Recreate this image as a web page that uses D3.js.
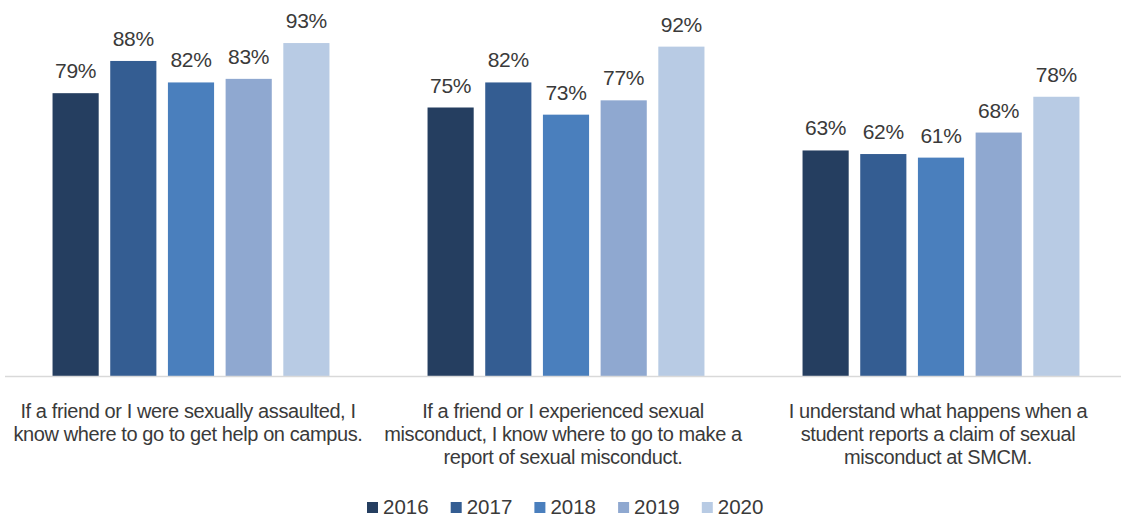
<!DOCTYPE html>
<html>
<head>
<meta charset="utf-8">
<script src="https://cdn.jsdelivr.net/npm/d3@7"></script>
<style>
  html, body { margin: 0; padding: 0; background: #fff; }
  svg text { font-family: "Liberation Sans", Arial, sans-serif; fill: #3a3a3a; }
</style>
</head>
<body>
<svg id="chart" width="1121" height="519"></svg>
<script>
// Survey statements (one group each)
const statements = [
  ["If a friend or I were sexually assaulted, I", "know where to go to get help on campus."],
  ["If a friend or I experienced sexual", "misconduct, I know where to go to make a", "report of sexual misconduct."],
  ["I understand what happens when a", "student reports a claim of sexual", "misconduct at SMCM."]
];
const years = ["2016", "2017", "2018", "2019", "2020"];
// Percent agreeing, per statement, by year
const v2016 = [79, 75, 63];
const v2017 = [88, 82, 62];
const v2018 = [82, 73, 61];
const v2019 = [83, 77, 68];
const v2020 = [93, 92, 78];
const colors = ["#253e60", "#345d92", "#4a7fbd", "#8fa8d0", "#b8cbe4"];

const series = [v2016, v2017, v2018, v2019, v2020];
const groups = statements.map((s, i) => ({
  id: "g" + i,
  lines: s,
  values: years.map((y, j) => ({ year: y, value: series[j][i] }))
}));

const svg = d3.select("#chart");
const baseY = 376;

const x0 = d3.scaleBand().domain(groups.map(g => g.id)).range([3.5, 1128.5]).padding(0);
const x1 = d3.scaleBand().domain(years).range([0, x0.bandwidth()]).paddingInner(0.2).paddingOuter(0.85);
const y = d3.scaleLinear().domain([0, 100]).range([baseY, 18]);
const color = d3.scaleOrdinal().domain(years).range(colors);

const g = svg.selectAll("g.group").data(groups).join("g")
  .attr("class", "group")
  .attr("transform", d => `translate(${x0(d.id)},0)`);

g.selectAll("rect").data(d => d.values).join("rect")
  .attr("x", d => x1(d.year))
  .attr("y", d => y(d.value))
  .attr("width", x1.bandwidth())
  .attr("height", d => baseY - y(d.value))
  .attr("fill", d => color(d.year));

g.selectAll("text.val").data(d => d.values).join("text")
  .attr("class", "val")
  .attr("x", d => x1(d.year) + x1.bandwidth() / 2)
  .attr("y", d => y(d.value) - 15)
  .attr("text-anchor", "middle")
  .style("font-size", "21px")
  .style("letter-spacing", "-0.3px")
  .text(d => d.value + "%");

// Category axis line
svg.append("line")
  .attr("x1", 5).attr("x2", 1121)
  .attr("y1", baseY + 0.5).attr("y2", baseY + 0.5)
  .attr("stroke", "#d9d9d9").attr("stroke-width", 1.5);

// Wrapped statement labels
g.append("text")
  .attr("class", "cat")
  .attr("text-anchor", "middle")
  .style("font-size", "20px")
  .style("letter-spacing", "-0.4px")
  .selectAll("tspan").data(d => d.lines).join("tspan")
  .attr("x", x0.bandwidth() / 2 - 3)
  .attr("y", (d, i) => 418 + i * 23)
  .text(d => d);

// Legend
const legend = svg.append("g").attr("transform", "translate(367,0)");
const li = legend.selectAll("g").data(years).join("g")
  .attr("transform", (d, i) => `translate(${i * 83.7},0)`);
li.append("rect")
  .attr("x", 0).attr("y", 502).attr("width", 11).attr("height", 11)
  .attr("fill", d => color(d));
li.append("text")
  .attr("x", 16).attr("y", 514)
  .style("font-size", "20.5px")
  .text(d => d);
</script>
</body>
</html>
